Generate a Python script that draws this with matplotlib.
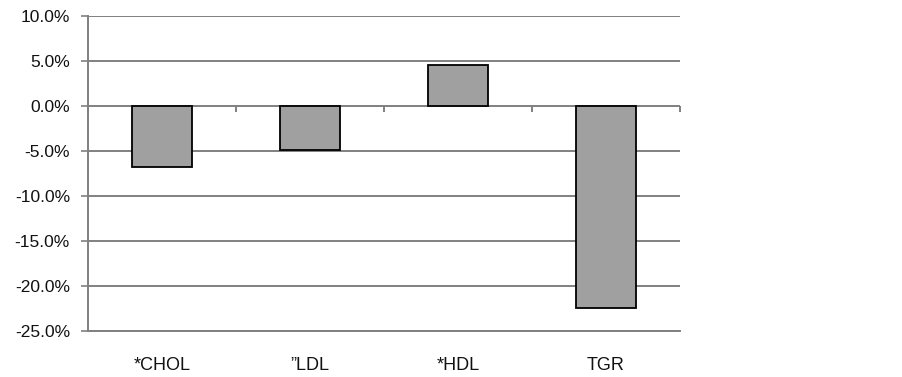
import matplotlib
matplotlib.use("Agg")
import matplotlib.pyplot as plt
import numpy as np
from matplotlib.ticker import FuncFormatter

categories = ["*CHOL", "\u201dLDL", "*HDL", "TGR"]
values = [-6.8, -4.9, 4.6, -22.4]
yticks = [10, 5, 0, -5, -10, -15, -20, -25]

plt.rcParams['font.family'] = ['Liberation Sans', 'DejaVu Sans']

fig = plt.figure(figsize=(9.03, 3.77), dpi=100)
ax = fig.add_axes([88/903, 1-331/377, (680-88)/903, (331-16)/377])

x = np.arange(len(categories))
ax.bar(x, values, width=0.41, color='#a0a0a0', edgecolor='black', linewidth=1.3, zorder=3)

ax.set_xlim(-0.5, len(categories) - 0.5)
ax.set_ylim(-25, 10)
ax.set_yticks(yticks)
ax.yaxis.set_major_formatter(FuncFormatter(lambda v, p: f"{v:.1f}%"))
ax.grid(axis='y', color='#808080', linewidth=1.4, zorder=0)
ax.set_axisbelow(True)

for s in ['top', 'right']:
    ax.spines[s].set_visible(False)
ax.spines['left'].set_color('#808080')
ax.spines['left'].set_linewidth(1.4)
ax.spines['bottom'].set_color('#808080')
ax.spines['bottom'].set_linewidth(1.4)

ax.tick_params(axis='y', length=5, width=1.2, color='#808080', labelsize=12.5, pad=8,
               labelcolor='#111111')
ax.set_xticks(x)
ax.set_xticklabels(categories)
ax.tick_params(axis='x', length=0, labelsize=13, pad=19, labelcolor='#111111')

# category boundary tick marks on the zero line
bounds = np.arange(len(categories) + 1) - 0.5
ax.vlines(bounds, -0.65, 0, color='#808080', linewidth=1.4, zorder=2, clip_on=False)

fig.savefig("out.png", dpi=100)
